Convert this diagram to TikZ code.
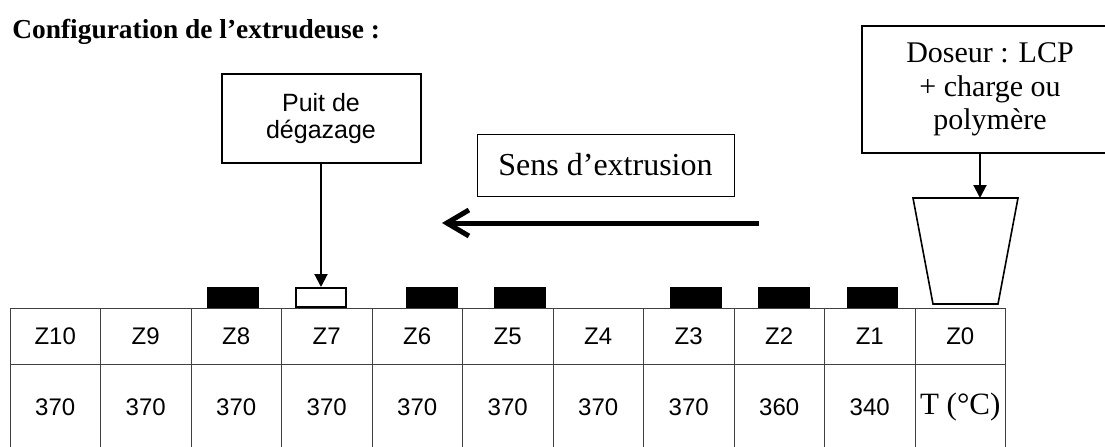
\documentclass[tikz,border=0pt]{standalone}
\usepackage{fontspec}
\setmainfont{Liberation Serif}
\setsansfont{Liberation Sans}
\usetikzlibrary{arrows.meta}

\begin{document}
\begin{tikzpicture}[x=0.5pt,y=-0.5pt,
      box/.style={draw,line width=1pt,align=center,inner sep=0pt},
      cell/.style={draw=black!75,line width=0.5pt,minimum width=45.25pt,
                   inner sep=0pt,font=\sffamily\fontsize{12}{14}\selectfont},
      pad/.style={draw,line width=0.8pt,minimum width=25pt,
                  minimum height=9.7pt,inner sep=0pt},
      arr/.style={-{Triangle[length=6.5pt,width=6.5pt]},line width=1pt}]
    \useasboundingbox (0,0) rectangle (1105,446);
    \node[anchor=base west,inner sep=0pt,font=\bfseries\fontsize{13.7}{16}\selectfont]
      (title) at (12,38) {Configuration de l’extrudeuse :};

    % zones of the barrel
    \foreach \z/\t [count=\i from 0] in {10/370,9/370,8/370,7/370,6/370,5/370,
        4/370,3/370,2/360,1/340,0/{\rmfamily\fontsize{15.5}{18}\selectfont T (°C)}} {
      \node[cell,minimum height=28pt] (z\z) at ({10+90.5*(\i+0.5)},336) {Z\z};
      \node[cell,minimum height=43pt] (t\z) at ({10+90.5*(\i+0.5)},407) {\t};
    }
    \foreach \x [count=\k] in {233,432,520,696,784,872.5}
      \node[pad,fill=black] (pad\k) at (\x,297.5) {};
    \node[pad] (vent) at (321,297.5) {};

    \node[box,font=\sffamily\fontsize{12.5}{13.8}\selectfont,
          minimum width=99.5pt,minimum height=44.5pt] (puit) at (321,118.5)
          {Puit de\\dégazage};
    \draw[arr] (puit) -- (vent);

    \node[box,font=\fontsize{15}{16.7}\selectfont,minimum width=128pt,
          minimum height=63.5pt] (doseur) at (990,89.5)
          {Doseur : LCP\\+ charge ou\\polymère};
    \draw[line width=0.8pt] (913,198) coordinate (hopl) -- (1018,198) coordinate (hopr)
      -- (998,304) -- (933,304) -- cycle;
    \coordinate (hop) at (980,198);
    \draw[arr] (doseur.south -| hop) -- (hop);

    \node[draw,line width=0.5pt,minimum width=128.5pt,minimum height=31pt,
          inner sep=0pt,font=\fontsize{16}{19}\selectfont] (sens) at (605.5,165)
          {Sens d’extrusion};
    \coordinate (flowin) at (759,223);
    \coordinate (flowout) at (442,223);
    \draw[line width=2.5pt,-{Straight Barb[length=11pt,width=13pt]}] (flowin) -- (flowout);
  \end{tikzpicture}
\end{document}
